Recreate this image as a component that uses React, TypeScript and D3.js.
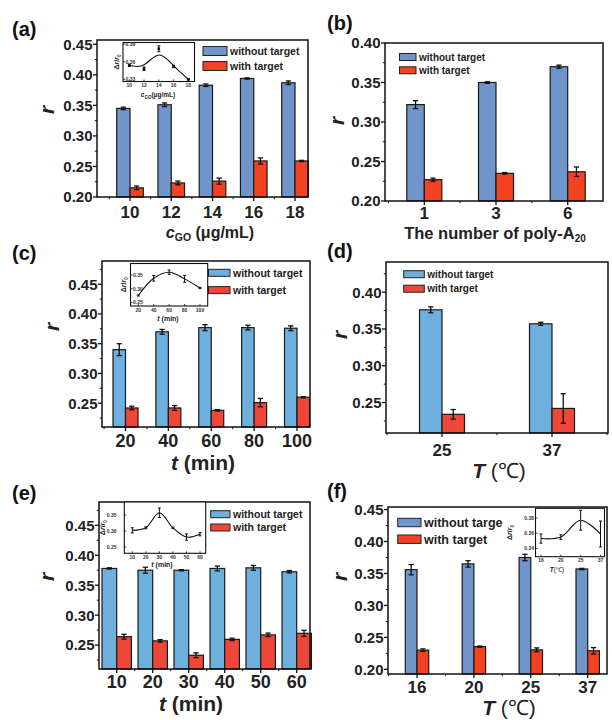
import React from "react";
import * as d3 from "d3";

const FONT = "'Liberation Sans', Arial, Helvetica, sans-serif";

// ---------- Panel (a) ----------
const catsA = ["10", "12", "14", "16", "18"];
const withoutA = [0.345, 0.351, 0.383, 0.394, 0.387];
const withoutErrA = [0.002, 0.003, 0.002, 0.001, 0.003];
const withA = [0.215, 0.223, 0.226, 0.259, 0.259];
const withErrA = [0.003, 0.003, 0.005, 0.005, 0.001];
const ticksA = [0.2, 0.25, 0.3, 0.35, 0.4, 0.45];
const insetXA = [10, 12, 14, 16, 18];
const insetYA = [0.354, 0.348, 0.382, 0.352, 0.33];
const insetErrA = [0.002, 0.003, 0.005, 0.002, 0.001];
const insetYTicksA = [0.33, 0.36, 0.39];

// ---------- Panel (b) ----------
const catsB = ["1", "3", "6"];
const withoutB = [0.322, 0.35, 0.37];
const withoutErrB = [0.005, 0.001, 0.002];
const withB = [0.227, 0.235, 0.237];
const withErrB = [0.002, 0.001, 0.006];
const ticksB = [0.2, 0.25, 0.3, 0.35, 0.4];

// ---------- Panel (c) ----------
const catsC = ["20", "40", "60", "80", "100"];
const withoutC = [0.34, 0.37, 0.377, 0.377, 0.376];
const withoutErrC = [0.01, 0.004, 0.005, 0.004, 0.004];
const withC = [0.242, 0.242, 0.238, 0.251, 0.26];
const withErrC = [0.003, 0.004, 0.001, 0.007, 0.001];
const ticksC = [0.25, 0.3, 0.35, 0.4, 0.45];
const insetXC = [20, 40, 60, 80, 100];
const insetYC = [0.276, 0.338, 0.36, 0.336, 0.303];
const insetErrC = [0.002, 0.01, 0.008, 0.012, 0.002];
const insetYTicksC = [0.25, 0.3, 0.35];

// ---------- Panel (d) ----------
const catsD = ["25", "37"];
const withoutD = [0.376, 0.357];
const withoutErrD = [0.004, 0.002];
const withD = [0.234, 0.242];
const withErrD = [0.0065, 0.02];
const ticksD = [0.25, 0.3, 0.35, 0.4];

// ---------- Panel (e) ----------
const catsE = ["10", "20", "30", "40", "50", "60"];
const withoutE = [0.378, 0.375, 0.375, 0.378, 0.379, 0.3725];
const withoutErrE = [0.001, 0.005, 0.001, 0.004, 0.004, 0.002];
const withE = [0.264, 0.257, 0.233, 0.2595, 0.267, 0.2696];
const withErrE = [0.004, 0.002, 0.004, 0.002, 0.003, 0.005];
const ticksE = [0.25, 0.3, 0.35, 0.4, 0.45];
const insetXE = [10, 20, 30, 40, 50, 60];
const insetYE = [0.302, 0.31, 0.357, 0.31, 0.281, 0.29];
const insetErrE = [0.008, 0.003, 0.015, 0.002, 0.01, 0.005];
const insetYTicksE = [0.25, 0.3, 0.35];

// ---------- Panel (f) ----------
const catsF = ["16", "20", "25", "37"];
const withoutF = [0.356, 0.365, 0.375, 0.357];
const withoutErrF = [0.008, 0.005, 0.005, 0.001];
const withF = [0.23, 0.2355, 0.2305, 0.229];
const withErrF = [0.002, 0.001, 0.003, 0.005];
const ticksF = [0.2, 0.25, 0.3, 0.35, 0.4, 0.45];
const insetXF = ["16", "20", "25", "37"];
const insetYF = [0.353, 0.355, 0.377, 0.359];
const insetErrF = [0.006, 0.003, 0.013, 0.017];
const insetYTicksF = [0.34, 0.36, 0.38];

const legendTexts = ["without target", "with target"];
const legendTextsF = ["without targe", "with target"];

const BLUE1 = "#6f95cb";
const RED1 = "#f2421f";
const BLUE2 = "#6db0de";
const RED2 = "#ee4638";

type Box = { l: number; t: number; r: number; b: number };

type InsetCfg = {
  box: Box;
  xs: (number | string)[];
  xLinear?: [number, number];
  xRange: [number, number];
  ys: number[];
  errs: number[];
  yDomain: [number, number];
  yTicks: number[];
  yFmt: (v: number) => string;
  labelsInside: boolean;
  yLabelX: number;
  tickLabelX?: number;
  xLabel: React.ReactNode;
  curve: any;
  points?: boolean;
};

function Inset({ c }: { c: InsetCfg }) {
  const b = c.box;
  const y = d3.scaleLinear().domain(c.yDomain).range([b.b, b.t]);
  let xf: (v: any) => number;
  if (c.xLinear) {
    const xl = d3.scaleLinear().domain(c.xLinear).range(c.xRange);
    xf = (v) => xl(v as number);
  } else {
    const xp = d3.scalePoint<string>().domain(c.xs as string[]).range(c.xRange);
    xf = (v) => xp(v as string) as number;
  }
  const line = d3
    .line<number>()
    .x((_, i) => xf(c.xs[i]))
    .y((d) => y(d))
    .curve(c.curve);
  const cy = (b.t + b.b) / 2;
  return (
    <g>
      <rect x={b.l} y={b.t} width={b.r - b.l} height={b.b - b.t} fill="white" stroke="#111" strokeWidth={1.1} />
      <path d={line(c.ys) || ""} fill="none" stroke="#111" strokeWidth={1.1} />
      {c.ys.map((v, i) => (
        <g key={i} stroke="#111" strokeWidth={1}>
          <line x1={xf(c.xs[i])} x2={xf(c.xs[i])} y1={y(v - c.errs[i])} y2={Math.max(b.t - 6, y(v + c.errs[i]))} />
          <line x1={xf(c.xs[i]) - 1.5} x2={xf(c.xs[i]) + 1.5} y1={y(v - c.errs[i])} y2={y(v - c.errs[i])} />
          <line x1={xf(c.xs[i]) - 1.5} x2={xf(c.xs[i]) + 1.5} y1={Math.max(b.t - 6, y(v + c.errs[i]))} y2={Math.max(b.t - 6, y(v + c.errs[i]))} />
          {c.points && <rect x={xf(c.xs[i]) - 1.3} y={y(v) - 1.3} width={2.6} height={2.6} fill="#111" stroke="none" />}
        </g>
      ))}
      {c.xs.map((v, i) => (
        <g key={"xt" + i}>
          <line x1={xf(v)} x2={xf(v)} y1={b.b} y2={b.b - 2} stroke="#111" strokeWidth={0.8} />
          <text x={xf(v)} y={b.b + 5.5} fontSize={5} fontWeight="bold" textAnchor="middle" fill="#333">
            {String(v)}
          </text>
        </g>
      ))}
      {c.yTicks.map((v, i) => (
        <g key={"yt" + i}>
          <line x1={b.l} x2={b.l + 2} y1={y(v)} y2={y(v)} stroke="#111" strokeWidth={0.8} />
          <text
            x={c.tickLabelX !== undefined ? c.tickLabelX : c.labelsInside ? b.l + 2.5 : b.l - 1.5}
            y={y(v) + 1.8}
            fontSize={5}
            fontWeight="bold"
            textAnchor={c.labelsInside ? "start" : "end"}
            fill="#333"
          >
            {c.yFmt(v)}
          </text>
        </g>
      ))}
      <text
        transform={`translate(${c.yLabelX},${cy}) rotate(-90)`}
        fontSize={7}
        fontWeight="bold"
        textAnchor="middle"
        fill="#222"
      >
        <tspan>Δ</tspan>
        <tspan fontStyle="italic">r</tspan>
        <tspan>/</tspan>
        <tspan fontStyle="italic">r</tspan>
        <tspan fontSize={4.5} dy={1.5}>0</tspan>
      </text>
      {c.xLabel}
    </g>
  );
}

type PanelCfg = {
  frame: Box;
  yDomain: [number, number];
  yTicks: number[];
  xRange: [number, number];
  barW: number;
  cats: string[];
  without: number[];
  withoutErr: number[];
  withv: number[];
  withErr: number[];
  blue: string;
  red: string;
  yTickSize: number;
  xTickSize: number;
  xTickBase: number;
  xLabel: React.ReactNode;
  rPos: [number, number];
  legend: { x: number; y: number; w: number; h: number; gap: number; size: number; texts: string[] };
  label: { text: string; x: number; y: number };
  inset?: InsetCfg;
};

function Panel({ p }: { p: PanelCfg }) {
  const f = p.frame;
  const y = d3.scaleLinear().domain(p.yDomain).range([f.b, f.t]);
  const x = d3.scalePoint<string>().domain(p.cats).range(p.xRange);
  const step = x.step();
  const d = p.yTicks[1] - p.yTicks[0];
  const minors: number[] = [];
  for (let v = p.yTicks[0] - d / 2; v < p.yDomain[1]; v += d) {
    if (v > p.yDomain[0] && v < p.yDomain[1]) minors.push(v);
  }
  const xMinors: number[] = [];
  p.cats.forEach((c) => {
    const m = (x(c) as number) + step / 2;
    if (m < f.r) xMinors.push(m);
    const m0 = (x(c) as number) - step / 2;
    if (m0 > f.l && c === p.cats[0]) xMinors.push(m0);
  });
  const fmt = d3.format(".2f");
  const lg = p.legend;
  const colors = [p.blue, p.red];
  const errBar = (cx: number, v: number, e: number, k: string) => {
    const y1 = y(v - e);
    const y2 = y(v + e);
    return (
      <g key={k} stroke="#111" strokeWidth={1.3}>
        <line x1={cx} x2={cx} y1={y1} y2={y2} />
        <line x1={cx - 2.6} x2={cx + 2.6} y1={y1} y2={y1} />
        <line x1={cx - 2.6} x2={cx + 2.6} y1={y2} y2={y2} />
      </g>
    );
  };
  return (
    <g fontFamily={FONT}>
      {p.cats.map((c, i) => {
        const cx = x(c) as number;
        return (
          <g key={c}>
            <rect x={cx - p.barW} y={y(p.without[i])} width={p.barW} height={f.b - y(p.without[i])} fill={p.blue} stroke="#1a1a1a" strokeWidth={1.2} />
            <rect x={cx} y={y(p.withv[i])} width={p.barW} height={f.b - y(p.withv[i])} fill={p.red} stroke="#1a1a1a" strokeWidth={1.2} />
          </g>
        );
      })}
      {p.cats.map((c, i) => errBar((x(c) as number) - p.barW / 2, p.without[i], p.withoutErr[i], "eb" + i))}
      {p.cats.map((c, i) => errBar((x(c) as number) + p.barW / 2, p.withv[i], p.withErr[i], "er" + i))}
      <rect x={f.l} y={f.t} width={f.r - f.l} height={f.b - f.t} fill="none" stroke="#111" strokeWidth={1.5} />
      {p.yTicks.map((v) => (
        <g key={"y" + v}>
          <line x1={f.l - 4} x2={f.l} y1={y(v)} y2={y(v)} stroke="#111" strokeWidth={1.3} />
          <text x={f.l - 4.5} y={y(v) + p.yTickSize * 0.36} fontSize={p.yTickSize} fontWeight="bold" textAnchor="end" fill="#222">
            {fmt(v)}
          </text>
        </g>
      ))}
      {minors.map((v) => (
        <line key={"ym" + v} x1={f.l - 2.2} x2={f.l} y1={y(v)} y2={y(v)} stroke="#111" strokeWidth={1} />
      ))}
      {p.cats.map((c) => (
        <g key={"x" + c}>
          <line x1={x(c) as number} x2={x(c) as number} y1={f.b} y2={f.b + 4} stroke="#111" strokeWidth={1.3} />
          <text x={x(c) as number} y={p.xTickBase} fontSize={p.xTickSize} fontWeight="bold" textAnchor="middle" fill="#222">
            {c}
          </text>
        </g>
      ))}
      {xMinors.map((m) => (
        <line key={"xm" + m} x1={m} x2={m} y1={f.b} y2={f.b + 2.2} stroke="#111" strokeWidth={1} />
      ))}
      {p.xLabel}
      <text
        transform={`translate(${p.rPos[0]},${p.rPos[1]}) rotate(-90)`}
        fontSize={21}
        fontWeight="bold"
        fontStyle="italic"
        textAnchor="middle"
        fill="#222"
      >
        r
      </text>
      {lg.texts.map((t, i) => (
        <g key={"lg" + i}>
          <rect x={lg.x} y={lg.y + i * lg.gap} width={lg.w} height={lg.h} fill={colors[i]} stroke="#222" strokeWidth={1} />
          <text x={lg.x + lg.w + 3} y={lg.y + i * lg.gap + lg.h / 2 + lg.size * 0.36} fontSize={lg.size} fontWeight="bold" fill="#222">
            {t}
          </text>
        </g>
      ))}
      <text x={p.label.x} y={p.label.y} fontSize={20} fontWeight="bold" fill="#111">
        {p.label.text}
      </text>
      {p.inset && <Inset c={p.inset} />}
    </g>
  );
}

const fmt2 = d3.format(".2f");

const panels: PanelCfg[] = [
  {
    frame: { l: 97, t: 40, r: 308, b: 197 },
    yDomain: [0.2, 0.457],
    yTicks: ticksA,
    xRange: [130, 295],
    barW: 13.3,
    cats: catsA,
    without: withoutA,
    withoutErr: withoutErrA,
    withv: withA,
    withErr: withErrA,
    blue: BLUE1,
    red: RED1,
    yTickSize: 15,
    xTickSize: 17,
    xTickBase: 218,
    xLabel: (
      <text x={210} y={237.5} fontSize={16} fontWeight="bold" textAnchor="middle" fill="#222">
        <tspan fontStyle="italic">c</tspan>
        <tspan fontSize={10.5} dy={3}>GO</tspan>
        <tspan dy={-3}> (μg/mL)</tspan>
      </text>
    ),
    rPos: [54, 110],
    legend: { x: 203, y: 46.5, w: 24, h: 9, gap: 15, size: 10.5, texts: legendTexts },
    label: { text: "(a)", x: 12, y: 36 },
    inset: {
      box: { l: 123, t: 42.5, r: 194.5, b: 81.5 },
      xs: insetXA,
      xLinear: [10, 18],
      xRange: [129.3, 188.3],
      ys: insetYA,
      errs: insetErrA,
      yDomain: [0.3263, 0.3927],
      yTicks: insetYTicksA,
      yFmt: fmt2,
      labelsInside: true,
      yLabelX: 119,
      xLabel: (
        <text x={158} y={97} fontSize={6.5} fontWeight="bold" textAnchor="middle" fill="#222">
          <tspan fontStyle="italic">c</tspan>
          <tspan fontSize={4.5} dy={1.5}>GO</tspan>
          <tspan dy={-1.5}>(μg/mL)</tspan>
        </text>
      ),
      curve: d3.curveBasis,
      points: true,
    },
  },
  {
    frame: { l: 385, t: 43, r: 603, b: 201 },
    yDomain: [0.2, 0.4],
    yTicks: ticksB,
    xRange: [424.3, 567.7],
    barW: 17.5,
    cats: catsB,
    without: withoutB,
    withoutErr: withoutErrB,
    withv: withB,
    withErr: withErrB,
    blue: BLUE1,
    red: RED1,
    yTickSize: 15,
    xTickSize: 17,
    xTickBase: 218.5,
    xLabel: (
      <text x={495} y={239} fontSize={16.5} fontWeight="bold" textAnchor="middle" fill="#222">
        The number of poly-A<tspan fontSize={10} dy={3}>20</tspan>
      </text>
    ),
    rPos: [344, 121],
    legend: { x: 399.5, y: 53.5, w: 16.5, h: 7, gap: 13.3, size: 10, texts: legendTexts },
    label: { text: "(b)", x: 327, y: 30 },
  },
  {
    frame: { l: 102, t: 261, r: 310, b: 427 },
    yDomain: [0.21, 0.489],
    yTicks: ticksC,
    xRange: [125.5, 297],
    barW: 12.5,
    cats: catsC,
    without: withoutC,
    withoutErr: withoutErrC,
    withv: withC,
    withErr: withErrC,
    blue: BLUE2,
    red: RED2,
    yTickSize: 15,
    xTickSize: 18,
    xTickBase: 447,
    xLabel: (
      <text x={203} y={470} fontSize={21} fontWeight="bold" textAnchor="middle" fill="#222">
        <tspan fontStyle="italic">t</tspan> (min)
      </text>
    ),
    rPos: [59, 327],
    legend: { x: 208.5, y: 269.3, w: 21.5, h: 7, gap: 17.3, size: 10.5, texts: legendTexts },
    label: { text: "(c)", x: 12, y: 260 },
    inset: {
      box: { l: 130.5, t: 263.5, r: 207.7, b: 306 },
      xs: insetXC,
      xLinear: [20, 100],
      xRange: [138.3, 200],
      ys: insetYC,
      errs: insetErrC,
      yDomain: [0.238, 0.3915],
      yTicks: insetYTicksC,
      yFmt: fmt2,
      labelsInside: true,
      yLabelX: 126,
      xLabel: (
        <text x={168} y={321} fontSize={7} fontWeight="bold" textAnchor="middle" fill="#222">
          <tspan fontStyle="italic">t</tspan> (min)
        </text>
      ),
      curve: d3.curveCatmullRom,
    },
  },
  {
    frame: { l: 386, t: 262, r: 608, b: 433 },
    yDomain: [0.2086, 0.441],
    yTicks: ticksD,
    xRange: [442, 552],
    barW: 22.5,
    cats: catsD,
    without: withoutD,
    withoutErr: withoutErrD,
    withv: withD,
    withErr: withErrD,
    blue: BLUE2,
    red: RED2,
    yTickSize: 15,
    xTickSize: 17,
    xTickBase: 456,
    xLabel: (
      <text x={499} y={478} fontSize={21} textAnchor="middle" fill="#222">
        <tspan fontStyle="italic" fontWeight="bold">T</tspan>
        <tspan> (℃)</tspan>
      </text>
    ),
    rPos: [347, 335],
    legend: { x: 403.7, y: 270.7, w: 20.6, h: 7, gap: 14.5, size: 10, texts: legendTexts },
    label: { text: "(d)", x: 327, y: 258 },
  },
  {
    frame: { l: 99, t: 502, r: 310, b: 669 },
    yDomain: [0.21, 0.489],
    yTicks: ticksE,
    xRange: [116.7, 296.7],
    barW: 14.7,
    cats: catsE,
    without: withoutE,
    withoutErr: withoutErrE,
    withv: withE,
    withErr: withErrE,
    blue: BLUE2,
    red: RED2,
    yTickSize: 15,
    xTickSize: 18,
    xTickBase: 688,
    xLabel: (
      <text x={191} y={711} fontSize={21} fontWeight="bold" textAnchor="middle" fill="#222">
        <tspan fontStyle="italic">t</tspan> (min)
      </text>
    ),
    rPos: [54, 577],
    legend: { x: 210.7, y: 510.7, w: 19.3, h: 7, gap: 13.3, size: 10.5, texts: legendTexts },
    label: { text: "(e)", x: 12, y: 500 },
    inset: {
      box: { l: 124.3, t: 502, r: 205.7, b: 553.3 },
      xs: insetXE,
      xLinear: [10, 60],
      xRange: [132.3, 200],
      ys: insetYE,
      errs: insetErrE,
      yDomain: [0.2303, 0.3906],
      yTicks: insetYTicksE,
      yFmt: fmt2,
      labelsInside: false,
      tickLabelX: 116.5,
      yLabelX: 105,
      xLabel: (
        <text x={162} y={567} fontSize={7} fontWeight="bold" textAnchor="middle" fill="#222">
          <tspan fontStyle="italic">t</tspan> (min)
        </text>
      ),
      curve: d3.curveCatmullRom,
    },
  },
  {
    frame: { l: 388, t: 507, r: 607, b: 674 },
    yDomain: [0.1927, 0.454],
    yTicks: ticksF,
    xRange: [417, 587.7],
    barW: 11.7,
    cats: catsF,
    without: withoutF,
    withoutErr: withoutErrF,
    withv: withF,
    withErr: withErrF,
    blue: BLUE1,
    red: RED1,
    yTickSize: 15,
    xTickSize: 17,
    xTickBase: 693,
    xLabel: (
      <text x={509} y={715} fontSize={21} textAnchor="middle" fill="#222">
        <tspan fontStyle="italic" fontWeight="bold">T</tspan>
        <tspan> (℃)</tspan>
      </text>
    ),
    rPos: [347, 577],
    legend: { x: 397.7, y: 518.3, w: 23.3, h: 8.4, gap: 16.7, size: 12.5, texts: legendTextsF },
    label: { text: "(f)", x: 327, y: 498 },
    inset: {
      box: { l: 535.5, t: 508.3, r: 604.5, b: 556.7 },
      xs: insetXF,
      xRange: [541, 600.5],
      ys: insetYF,
      errs: insetErrF,
      yDomain: [0.3292, 0.3927],
      yTicks: insetYTicksF,
      yFmt: fmt2,
      labelsInside: false,
      yLabelX: 512,
      xLabel: (
        <text x={557} y={572} fontSize={6.5} textAnchor="middle" fill="#222">
          <tspan fontStyle="italic" fontWeight="bold">T</tspan>
          <tspan>(℃)</tspan>
        </text>
      ),
      curve: d3.curveCatmullRom,
    },
  },
];

export default function App() {
  return (
    <svg
      width={612}
      height={720}
      viewBox="0 0 612 720"
      style={{ position: "absolute", left: 0, top: 0, background: "white" }}
      fontFamily={FONT}
    >
      <rect x={0} y={0} width={612} height={720} fill="white" />
      {panels.map((p, i) => (
        <Panel key={i} p={p} />
      ))}
    </svg>
  );
}
